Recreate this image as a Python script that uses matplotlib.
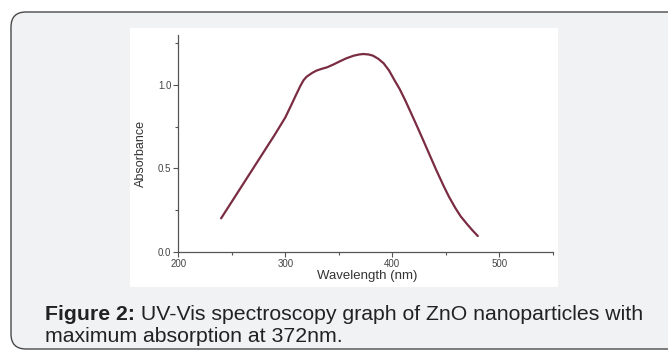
import numpy as np
import matplotlib
matplotlib.use("Agg")
import matplotlib.pyplot as plt
from matplotlib.patches import FancyBboxPatch, Rectangle
from matplotlib.ticker import MultipleLocator

plt.rcParams["font.family"] = ["Liberation Sans", "DejaVu Sans"]

# UV-Vis absorbance
wavelength = [240, 250, 260, 270, 280, 290, 300, 306, 310, 314, 317, 320, 325,
              329, 334, 339, 345, 351, 357, 364, 369, 373, 378, 382, 387, 392,
              397, 402, 407, 412, 417, 423, 429, 435, 441, 448, 453, 459, 464,
              470, 475, 480]
absorbance = [0.20, 0.30, 0.40, 0.50, 0.60, 0.70, 0.805, 0.885, 0.94, 0.993, 1.028,
              1.05, 1.072, 1.086, 1.097, 1.106, 1.123, 1.142, 1.16, 1.176, 1.183,
              1.186, 1.183, 1.176, 1.157, 1.13, 1.087, 1.03, 0.975, 0.91, 0.84,
              0.755, 0.668, 0.58, 0.492, 0.395, 0.33, 0.262, 0.212, 0.165, 0.128,
              0.094]

caption_bold = "Figure 2:"
caption_rest = " UV-Vis spectroscopy graph of ZnO nanoparticles with"
caption_line2 = "maximum absorption at 372nm."

fig = plt.figure(figsize=(6.68, 3.51), dpi=100)
fig.patch.set_facecolor("white")

# rounded caption box (px -> inches)
box = FancyBboxPatch((0.11, 0.02), 6.8, 3.37, boxstyle="round,pad=0,rounding_size=0.15",
                     transform=fig.dpi_scale_trans, facecolor="#f1f2f4",
                     edgecolor="#4a4a4a", lw=1.0, zorder=-3)
fig.patches.append(box)
# white panel behind the graph
fig.patches.append(Rectangle((130 / 668, 1 - 287 / 351), 428 / 668, 259 / 351,
                             transform=fig.transFigure, facecolor="white",
                             edgecolor="none", zorder=-2))

ax = fig.add_axes([178.3 / 668, 1 - 251.7 / 351, 374.4 / 668, 216.7 / 351])
ax.set_facecolor("none")
ax.plot(wavelength, absorbance, color="#7a2c42", lw=1.6,
        solid_capstyle="round", solid_joinstyle="round")

ax.set_xlim(200, 550)
ax.set_ylim(0, 1.3)
ax.xaxis.set_major_locator(MultipleLocator(100))
ax.xaxis.set_minor_locator(MultipleLocator(50))
ax.yaxis.set_major_locator(MultipleLocator(0.5))
ax.yaxis.set_minor_locator(MultipleLocator(0.25))
ax.yaxis.set_major_formatter(matplotlib.ticker.FormatStrFormatter("%.1f"))
for s in ("top", "right"):
    ax.spines[s].set_visible(False)
for s in ("left", "bottom"):
    ax.spines[s].set_color("#555555")
    ax.spines[s].set_linewidth(0.9)
ax.tick_params(which="both", direction="out", color="#555555", width=0.8,
               labelsize=7, labelcolor="#444444", pad=1.5)
ax.tick_params(which="major", length=3.5)
ax.tick_params(which="minor", length=2)

ax.set_xlabel("Wavelength (nm)", fontsize=9.5, color="#333333")
ax.xaxis.set_label_coords(0.504, -0.085)
ax.set_ylabel("Absorbance", fontsize=9, color="#333333")
ax.yaxis.set_label_coords(-0.085, 0.455)

# caption
fs = 15.3
t1 = fig.text(45 / 668, 1 - 319.5 / 351, caption_bold, fontsize=fs, fontweight="bold",
              color="#222222", va="baseline")
fig.canvas.draw()
bb = t1.get_window_extent()
fig.text(bb.x1 / 668, 1 - 319.5 / 351, caption_rest, fontsize=fs, color="#222222",
         va="baseline")
fig.text(45 / 668, 1 - 342 / 351, caption_line2, fontsize=fs, color="#222222",
         va="baseline")

fig.savefig("out.png", dpi=100, facecolor=fig.get_facecolor())
